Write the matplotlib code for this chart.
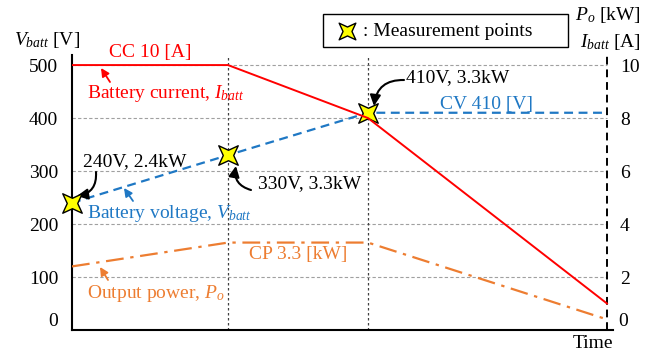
import matplotlib
matplotlib.use("Agg")
from matplotlib import pyplot as plt
from matplotlib.patches import Rectangle
from matplotlib.path import Path
import numpy as np

plt.rcParams['font.family'] = 'Liberation Serif'
plt.rcParams['mathtext.fontset'] = 'custom'
plt.rcParams['mathtext.rm'] = 'Liberation Serif'
plt.rcParams['mathtext.it'] = 'Liberation Serif:italic'

# charging profile, time in arbitrary units
t = [0, 156, 296, 535]
v_batt = [240, 330, 410, 410]   # V
i_batt = [10, 10, 8, 1]         # A
p_o = [2.4, 3.3, 3.3, 0.4]      # kW
v_ticks = [0, 100, 200, 300, 400, 500]
r_ticks = [0, 2, 4, 6, 8, 10]
meas_t = [0, 156, 296]
meas_v = [240, 330, 410]

red = '#ff0000'
blue = '#1f78c4'
orange = '#ed7d31'
W, H = 657, 356

# four-point star, tips on the diagonals
ang = np.deg2rad(np.arange(45, 405, 45))
rad = np.where(np.arange(8) % 2 == 0, 1.0, 0.38)
verts = np.c_[rad * np.cos(ang), rad * np.sin(ang)]
star = Path(np.vstack([verts, verts[:1]]), closed=True)


def px(x, y):
    return x / W, 1 - y / H


fig = plt.figure(figsize=(6.57, 3.56), dpi=100)
ax = fig.add_axes([72 / W, 26 / H, 541 / W, 275 / H])
ax.set_xlim(0, 541)
ax.set_ylim(0, 519)
ax2 = ax.twinx()
ax2.set_ylim(0, 519 / 50)

for s in ['top', 'right']:
    ax.spines[s].set_visible(False)
for s in ['top', 'right', 'left', 'bottom']:
    ax2.spines[s].set_visible(False)
ax.spines['left'].set_linewidth(1.5)
ax.spines['bottom'].set_linewidth(1.5)
ax.set_xticks([])

fs = 14
ax.set_yticks(v_ticks, [''] + [str(v) for v in v_ticks[1:]])
ax.tick_params(axis='y', length=0, pad=10, labelsize=fs)
ax2.set_yticks(r_ticks, [''] + [str(v) for v in r_ticks[1:]])
ax2.tick_params(axis='y', length=0, pad=5, labelsize=fs)
ax.annotate('0', xy=(0, 0), xycoords=('axes fraction', 'data'),
            xytext=(-10, 6), textcoords='offset points', ha='right', va='center', fontsize=fs)
ax2.annotate('0', xy=(1, 0), xycoords=('axes fraction', 'data'),
             xytext=(4, 6), textcoords='offset points', ha='left', va='center', fontsize=fs)

# grid
ax.hlines(v_ticks[1:], 0, t[-1], colors='#a0a0a0', linestyles=(0, (3, 2)), lw=0.8, zorder=1)
ax.vlines([t[1], t[2]], 0, 519, colors='#404040', linestyles=(0, (2, 2)), lw=0.9, zorder=1)
ax.vlines(t[-1], 0, 519, colors='k', linestyles=(0, (4, 2.5)), lw=1.4, zorder=1)

ax2.plot(t, i_batt, color=red, lw=1.4, zorder=3)
ax.plot(t, v_batt, color=blue, lw=1.6, ls=(0, (4, 2.5)), zorder=3)
ax2.plot(t, p_o, color=orange, lw=1.6, ls=(0, (8, 3, 1.5, 3)), zorder=3)
ax.plot(meas_t, meas_v, ls='none', marker=star, ms=14, mfc='#ffff00',
        mec='k', mew=1, zorder=5, clip_on=False)

# labels
fig.text(*px(14, 40), '$V_{batt}$ [V]', ha='left', va='center', fontsize=fs)
fig.text(*px(641, 15), '$P_o$ [kW]', ha='right', va='center', fontsize=fs)
fig.text(*px(641, 42), '$I_{batt}$ [A]', ha='right', va='center', fontsize=fs)
fig.text(*px(613, 343), 'Time', ha='right', va='center', fontsize=fs)

fig.text(*px(150, 52), 'CC 10 [A]', ha='center', va='center', fontsize=fs, color=red)
fig.text(*px(87, 94), 'Battery current, $I_{batt}$', ha='left', va='center', fontsize=fs, color=red)
fig.text(*px(487, 104), 'CV 410 [V]', ha='center', va='center', fontsize=fs, color=blue)
fig.text(*px(87, 214), 'Battery voltage, $V_{batt}$', ha='left', va='center', fontsize=fs, color=blue)
fig.text(*px(298, 255), 'CP 3.3 [kW]', ha='center', va='center', fontsize=fs, color=orange)
fig.text(*px(87, 293), 'Output power, $P_o$', ha='left', va='center', fontsize=fs, color=orange)

fig.text(*px(83, 162), '240V, 2.4kW', ha='left', va='center', fontsize=fs)
fig.text(*px(258, 184), '330V, 3.3kW', ha='left', va='center', fontsize=fs)
fig.text(*px(406, 78), '410V, 3.3kW', ha='left', va='center', fontsize=fs)


def arrow(tail, head, color, rad=0.0, lw=1.3, ms=14):
    ax.annotate('', xy=px(*head), xycoords='figure fraction',
                xytext=px(*tail), textcoords='figure fraction',
                arrowprops=dict(arrowstyle='-|>', color=color, lw=lw, mutation_scale=ms,
                                shrinkA=0, shrinkB=0, connectionstyle='arc3,rad=%s' % rad))


arrow((96, 172), (77, 196), 'k', rad=-0.45, lw=1.5, ms=16)
arrow((251, 190), (236, 166), 'k', rad=-0.45, lw=1.5, ms=16)
arrow((404, 80), (374, 106), 'k', rad=0.45, lw=1.5, ms=16)
arrow((110, 82), (101, 68), red, lw=1.3, ms=12)
arrow((133, 201), (124, 188), blue, lw=1.3, ms=12)
arrow((108, 280), (100, 267), orange, lw=1.3, ms=12)

# measurement point key
fig.patches.append(Rectangle(px(323, 47), 245 / W, 33 / H, transform=fig.transFigure,
                             fill=False, ec='k', lw=1))
fig.lines.append(plt.Line2D([347 / W], [1 - 31 / H], transform=fig.transFigure, ls='none',
                            marker=star, ms=12, mfc='#ffff00', mec='k', mew=1))
fig.text(*px(363, 31), ': Measurement points', ha='left', va='center', fontsize=fs)

fig.savefig('out.png', dpi=100)
